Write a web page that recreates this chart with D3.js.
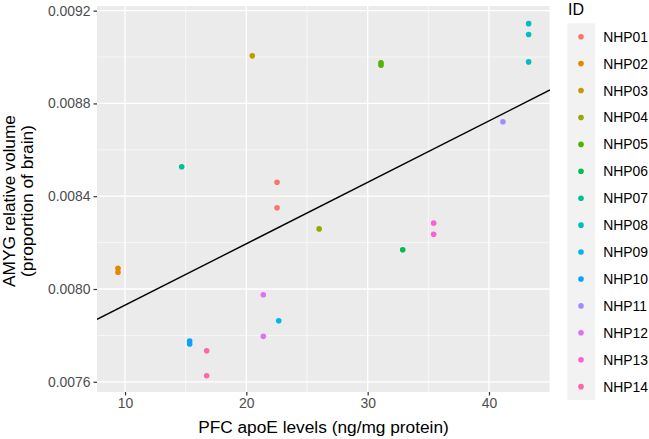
<!DOCTYPE html>
<html>
<head>
<meta charset="utf-8">
<script src="https://cdn.jsdelivr.net/npm/d3@7"></script>
<style>
  html, body { margin: 0; padding: 0; background: #ffffff; }
  svg { display: block; font-family: "Liberation Sans", Arial, sans-serif; }
</style>
</head>
<body>
<svg id="chart" width="649" height="439"></svg>
<script>
// ---- data ----
const ids = ["NHP01","NHP02","NHP03","NHP04","NHP05","NHP06","NHP07","NHP08","NHP09","NHP10","NHP11","NHP12","NHP13","NHP14"];
const pointId = ["NHP01","NHP01","NHP02","NHP02","NHP03","NHP04","NHP05","NHP05","NHP06","NHP07","NHP08","NHP08","NHP08","NHP09","NHP10","NHP10","NHP11","NHP12","NHP12","NHP13","NHP13","NHP14","NHP14"];
const apoE = [22.53,22.53,9.42,9.42,20.49,26.0,31.1,31.1,32.89,14.67,43.27,43.27,43.27,22.67,15.33,15.33,41.15,21.4,21.4,35.44,35.44,16.73,16.73];
const amyg = [0.008460,0.008350,0.008089,0.008072,0.009005,0.008259,0.008975,0.008965,0.008169,0.008527,0.009144,0.009097,0.008979,0.007863,0.007776,0.007763,0.008721,0.007975,0.007796,0.008284,0.008236,0.007734,0.007626];
const fitX = [7.69, 45.03];
const fitY = [0.007869, 0.008858];
const xTicks = [10, 20, 30, 40];
const xMinor = [15, 25, 35, 45];
const yTicks = [0.0076, 0.0080, 0.0084, 0.0088, 0.0092];
const yMinor = [0.0078, 0.0082, 0.0086, 0.0090];

// ggplot-style hue palette (polarLUV -> sRGB)
function hclR(h, c, l) {
  const hr = h * Math.PI / 180;
  const U = c * Math.cos(hr), V = c * Math.sin(hr);
  const Xn = 95.047, Yn = 100, Zn = 108.883;
  const un = 4 * Xn / (Xn + 15 * Yn + 3 * Zn), vn = 9 * Yn / (Xn + 15 * Yn + 3 * Zn);
  const Y = l > 8 ? Yn * Math.pow((l + 16) / 116, 3) : Yn * l / 903.3;
  const u = U / (13 * l) + un, v = V / (13 * l) + vn;
  const X = 9 * Y * u / (4 * v);
  const Z = -X / 3 - 5 * Y + 3 * Y / v;
  const x = X / 100, y = Y / 100, z = Z / 100;
  const lin = [3.240479 * x - 1.537150 * y - 0.498535 * z,
              -0.969256 * x + 1.875992 * y + 0.041556 * z,
               0.055648 * x - 0.204043 * y + 1.057311 * z];
  const g = lin.map(t => {
    const s = t <= 0.0031308 ? 12.92 * t : 1.055 * Math.pow(t, 1 / 2.4) - 0.055;
    return Math.round(Math.max(0, Math.min(1, s)) * 255);
  });
  return d3.rgb(g[0], g[1], g[2]).formatHex();
}
const palette = ids.map((d, i) => hclR(15 + i * 360 / ids.length, 100, 65));
const color = d3.scaleOrdinal().domain(ids).range(palette);

// ---- layout ----
const svg = d3.select("#chart");
const P = { left: 97, right: 550, top: 6, bottom: 392 };
const x = d3.scaleLinear().domain([7.69, 45.03]).range([P.left, P.right]);
const y = d3.scaleLinear().domain([0.007556, 0.00922]).range([P.bottom, P.top]);

// panel
svg.append("rect").attr("x", P.left).attr("y", P.top)
  .attr("width", P.right - P.left).attr("height", P.bottom - P.top).attr("fill", "#EBEBEB");

svg.append("clipPath").attr("id", "pclip").append("rect")
  .attr("x", P.left).attr("y", P.top).attr("width", P.right - P.left).attr("height", P.bottom - P.top);

const grid = svg.append("g").attr("clip-path", "url(#pclip)");
grid.selectAll(".xmin").data(xMinor).join("line")
  .attr("x1", d => x(d)).attr("x2", d => x(d)).attr("y1", P.top).attr("y2", P.bottom)
  .attr("stroke", "#fff").attr("stroke-width", 0.6);
grid.selectAll(".ymin").data(yMinor).join("line")
  .attr("y1", d => y(d)).attr("y2", d => y(d)).attr("x1", P.left).attr("x2", P.right)
  .attr("stroke", "#fff").attr("stroke-width", 0.6);
grid.selectAll(".xmaj").data(xTicks).join("line")
  .attr("x1", d => x(d)).attr("x2", d => x(d)).attr("y1", P.top).attr("y2", P.bottom)
  .attr("stroke", "#fff").attr("stroke-width", 1.3);
grid.selectAll(".ymaj").data(yTicks).join("line")
  .attr("y1", d => y(d)).attr("y2", d => y(d)).attr("x1", P.left).attr("x2", P.right)
  .attr("stroke", "#fff").attr("stroke-width", 1.3);

// axes
const xAxis = d3.axisBottom(x).tickValues(xTicks).tickSize(3.5).tickPadding(2.5).tickFormat(d3.format("d"));
const yAxis = d3.axisLeft(y).tickValues(yTicks).tickSize(3.5).tickPadding(3).tickFormat(d3.format(".4f"));
const gx = svg.append("g").attr("transform", `translate(0,${P.bottom})`).call(xAxis);
const gy = svg.append("g").attr("transform", `translate(${P.left},0)`).call(yAxis);
[gx, gy].forEach(g => {
  g.select(".domain").remove();
  g.selectAll(".tick line").attr("stroke", "#333333").attr("stroke-width", 1.2);
  g.selectAll(".tick text").attr("fill", "#4D4D4D").attr("font-size", "13.9px")
    .attr("font-family", "Liberation Sans, Arial, sans-serif");
});

// regression line
const lineG = svg.append("g").attr("clip-path", "url(#pclip)");
lineG.append("line")
  .attr("x1", x(fitX[0])).attr("y1", y(fitY[0]))
  .attr("x2", x(fitX[1])).attr("y2", y(fitY[1]))
  .attr("stroke", "#000").attr("stroke-width", 1.4);

// points
const pts = apoE.map((v, i) => ({ x: v, y: amyg[i], id: pointId[i] }));
svg.append("g").selectAll("circle").data(pts).join("circle")
  .attr("cx", d => x(d.x)).attr("cy", d => y(d.y)).attr("r", 2.8)
  .attr("fill", d => color(d.id));

// axis titles
svg.append("text").attr("x", (P.left + P.right) / 2).attr("y", 433.3)
  .attr("text-anchor", "middle").attr("font-size", "17.3px").attr("fill", "#000")
  .text("PFC apoE levels (ng/mg protein)");
const yt = svg.append("text").attr("transform", "translate(0,201) rotate(-90)")
  .attr("text-anchor", "middle").attr("font-size", "17.3px").attr("fill", "#000");
yt.append("tspan").attr("x", 0).attr("y", 15).text("AMYG relative volume");
yt.append("tspan").attr("x", 0).attr("y", 32.5).text("(proportion of brain)");

// legend
const L = { x: 567.3, y: 23.3, w: 27.7, step: 26.92, first: 36.7 };
svg.append("text").attr("x", 568).attr("y", 14.5).attr("font-size", "16px").attr("fill", "#000").text("ID");
svg.append("rect").attr("x", L.x).attr("y", L.y).attr("width", L.w)
  .attr("height", L.first - L.y + (ids.length - 1) * L.step + (L.first - L.y))
  .attr("fill", "#F2F2F2");
const lg = svg.append("g").selectAll("g").data(ids).join("g")
  .attr("transform", (d, i) => `translate(0,${L.first + i * L.step})`);
lg.append("circle").attr("cx", 581).attr("cy", 0).attr("r", 2.8).attr("fill", d => color(d));
lg.append("text").attr("x", 603.3).attr("y", 0).attr("dy", "0.36em")
  .attr("font-size", "13.9px").attr("fill", "#000").text(d => d);
</script>
</body>
</html>
